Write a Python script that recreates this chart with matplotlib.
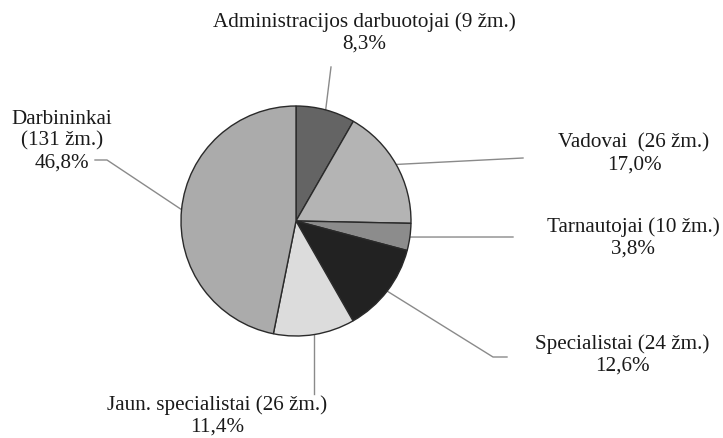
import matplotlib
matplotlib.use("Agg")
import matplotlib.pyplot as plt
import numpy as np

categories = ["Administracijos darbuotojai", "Vadovai", "Tarnautojai",
              "Specialistai", "Jaun. specialistai", "Darbininkai"]
counts = [9, 26, 10, 24, 26, 131]
percents = [8.3, 17.0, 3.8, 12.6, 11.4, 46.8]
colors = ["#646464", "#b4b4b4", "#8c8c8c", "#222222", "#dcdcdc", "#ababab"]

W, H = 723, 439
fig = plt.figure(figsize=(W / 100, H / 100), dpi=100)
ax = fig.add_axes([0, 0, 1, 1])

cx, cy, r = 296, H - 222, 115
wedges, _ = ax.pie(percents, colors=colors, startangle=90, counterclock=False,
                   center=(cx, cy), radius=r, frame=True,
                   wedgeprops=dict(edgecolor="#2a2a2a", linewidth=1.0))
ax.set_xlim(0, W)
ax.set_ylim(0, H)
ax.set_aspect("equal")
ax.axis("off")

font = dict(family=["Liberation Serif", "DejaVu Serif"], fontsize=15.2, color="#1a1a1a")

layout = [
    dict(path=[(331, 68)], text=(364, 33)),
    dict(path=[(523, 159)], text=(634, 154)),
    dict(path=[(513, 238)], text=(633, 238)),
    dict(path=[(493, 358), (507, 358)], text=(622, 355)),
    dict(path=[(None, 395)], text=(217, 416)),
    dict(path=[(107, 161), (95, 161)], text=(62, 141)),
]

for w, cat, n, p, lay in zip(wedges, categories, counts, percents, layout):
    ang = np.deg2rad((w.theta1 + w.theta2) / 2)
    x0, y0 = cx + r * np.cos(ang), cy + r * np.sin(ang)
    xs, ys = [x0], [y0]
    for px, py in lay["path"]:
        xs.append(x0 if px is None else px)
        ys.append(H - py)
    ax.plot(xs, ys, color="#8a8a8a", linewidth=1.0, zorder=0)
    pct = f"{p:.1f}%".replace(".", ",")
    if cat == "Darbininkai":
        txt = f"{cat}\n({n} žm.)\n{pct}"
    elif cat == "Vadovai":
        txt = f"{cat}  ({n} žm.)\n{pct}"
    else:
        txt = f"{cat} ({n} žm.)\n{pct}"
    tx, ty = lay["text"]
    ax.text(tx, H - ty, txt, ha="center", va="center", linespacing=1.18, **font)

fig.savefig("out.png", dpi=100)
